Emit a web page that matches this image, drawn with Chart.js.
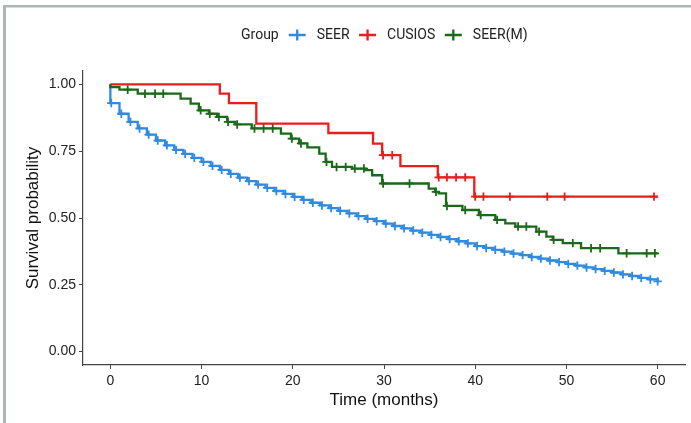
<!DOCTYPE html>
<html><head><meta charset="utf-8">
<script src="https://cdn.jsdelivr.net/npm/chart.js@4"></script>
<style>html,body{margin:0;padding:0;background:#fff;overflow:hidden}#wrap{width:691px;height:423px;position:relative}</style>
</head><body><div id="wrap"><canvas id="c"></canvas></div>
<script>
const groupTitle = 'Group';
const seriesNames = ['SEER', 'CUSIOS', 'SEER(M)'];
const seriesColors = ['#2f8ae0', '#ec1c1c', '#1a6a1a'];

// SEER: step change times (months) and survival after each change
const seerTimes = [0,0,1,2,3,4,5,6,7,8,9,10,11,12,13,14,15,16,17,18,19,20,21,22,23,24,25,26,27,28,29,30,31,32,33,34,35,36,37,38,39,40,41,42,43,44,45,46,47,48,49,50,51,52,53,54,55,56,57,58,59,60];
const seerSurv = [1,0.93,0.89,0.86,0.835,0.812,0.79,0.772,0.755,0.74,0.725,0.71,0.695,0.68,0.665,0.651,0.638,0.625,0.613,0.601,0.59,0.579,0.568,0.557,0.547,0.537,0.527,0.517,0.507,0.497,0.488,0.479,0.47,0.461,0.453,0.445,0.437,0.429,0.421,0.413,0.405,0.395,0.388,0.381,0.374,0.367,0.361,0.354,0.348,0.341,0.335,0.328,0.322,0.315,0.309,0.302,0.296,0.289,0.283,0.276,0.27,0.263];
const seerCensor = [0.1,1.2,2.2,3.2,4.2,5.2,6.2,7.2,8.2,9.2,10.2,11.2,12.2,13.2,14.2,15.2,16.2,17.2,18.2,19.2,20.2,21.2,22.2,23.2,24.2,25.2,26.2,27.2,28.2,29.2,30.2,31.2,32.2,33.2,34.2,35.2,36.2,37.2,38.2,39.2,40.2,41.2,42.2,43.2,44.2,45.2,46.2,47.2,48.2,49.2,50.2,51.2,52.2,53.2,54.2,55.2,56.2,57.2,58.2,59.2,60];

// CUSIOS
const cusiosTimes = [0,12,13,16,23.9,28.8,29.8,31.8,35.9,39.9,60];
const cusiosSurv = [1,0.965,0.93,0.853,0.818,0.778,0.735,0.694,0.652,0.58,0.58];
const cusiosCensor = [29.9,30.9,36.0,36.9,37.9,38.9,40.0,40.9,43.8,47.9,49.8,59.6];

// SEER(M)
const seermTimes = [0,0,1.0,3.0,7.7,8.8,9.7,10.8,11.7,12.8,13.7,15.5,18.7,19.8,20.7,21.6,22.9,23.6,24.3,26.5,28.0,28.7,29.8,34.9,35.6,36.0,36.8,38.6,40.4,42.2,43.3,44.4,46.7,47.8,48.5,49.6,51.6,55.7,60];
const seermSurv = [1,0.99,0.98,0.965,0.947,0.928,0.903,0.89,0.878,0.86,0.85,0.835,0.816,0.797,0.779,0.764,0.741,0.71,0.691,0.685,0.679,0.66,0.629,0.61,0.598,0.592,0.545,0.53,0.511,0.493,0.48,0.468,0.449,0.43,0.418,0.406,0.387,0.368,0.368];
const seermCensor = [1.9,3.8,4.9,5.8,9.9,10.9,11.9,12.9,13.9,15.8,16.8,17.8,19.9,20.9,23.7,24.8,25.8,26.8,27.8,29.9,32.8,35.7,36.9,38.9,40.6,42.4,44.7,45.6,47.0,48.6,50.7,52.7,53.7,56.6,58.8,59.7];

const xTicks = [0,10,20,30,40,50,60];
const yTicks = [0,0.25,0.5,0.75,1];
const yTickLabels = ['0.00','0.25','0.50','0.75','1.00'];
const xTitle = 'Time (months)';
const yTitle = 'Survival probability';

const series = [
  {times: seerTimes, surv: seerSurv, censor: seerCensor},
  {times: cusiosTimes, surv: cusiosSurv, censor: cusiosCensor},
  {times: seermTimes, surv: seermSurv, censor: seermCensor}
];

function survAt(times, surv, t) {
  let v = surv[0];
  for (let i = 0; i < times.length; i++) if (times[i] <= t) v = surv[i];
  return v;
}

const datasets = [];
series.forEach((s, i) => {
  datasets.push({
    label: seriesNames[i],
    data: s.times.map((t, k) => ({x: t, y: s.surv[k]})),
    showLine: true, stepped: 'before',
    borderColor: seriesColors[i], borderWidth: 2.3,
    pointRadius: 0, pointHoverRadius: 0, fill: false,
    order: 10 - i
  });
  datasets.push({
    label: seriesNames[i] + ' censor',
    data: s.censor.map(t => ({x: t, y: survAt(s.times, s.surv, t)})),
    showLine: false, pointStyle: 'cross', pointRadius: 4.2,
    pointBorderColor: seriesColors[i], pointBorderWidth: 1.8,
    borderColor: seriesColors[i], backgroundColor: seriesColors[i],
    order: 10 - i
  });
});

const framePlugin = {
  id: 'frame',
  beforeDraw(chart) {
    const ctx = chart.ctx;
    ctx.save();
    ctx.fillStyle = '#fff';
    ctx.fillRect(0, 0, chart.width, chart.height);
    ctx.fillStyle = '#abb8b3';
    ctx.fillRect(3, 5, chart.width - 3, 2.5);
    ctx.fillRect(3, 5, 3, chart.height - 5);
    ctx.restore();
  },
  afterDraw(chart) {
    const ctx = chart.ctx;
    ctx.save();
    ctx.font = '14px Roboto';
    ctx.textBaseline = 'middle';
    ctx.fillStyle = '#222';
    const cy = 35;
    let x = 241;
    ctx.fillText(groupTitle, x, cy);
    x += ctx.measureText(groupTitle).width + 10;
    seriesNames.forEach((name, i) => {
      ctx.strokeStyle = seriesColors[i];
      ctx.lineWidth = 2.3;
      ctx.beginPath();
      ctx.moveTo(x, cy); ctx.lineTo(x + 17, cy);
      ctx.moveTo(x + 8.5, cy - 5.5); ctx.lineTo(x + 8.5, cy + 5.5);
      ctx.stroke();
      x += 17 + 11;
      ctx.fillText(name, x, cy);
      x += ctx.measureText(name).width + 9.5;
    });
    ctx.restore();
  }
};

new Chart(document.getElementById('c'), {
  type: 'scatter',
  data: {datasets},
  plugins: [framePlugin],
  options: {
    responsive: true, maintainAspectRatio: false, animation: false,
    layout: {padding: {top: 71, right: 6, bottom: 5, left: 10}},
    plugins: {legend: {display: false}, tooltip: {enabled: false}},
    scales: {
      x: {
        type: 'linear', min: -3, max: 63,
        afterBuildTicks: s => { s.ticks = xTicks.map(v => ({value: v})); },
        afterFit: s => { s.height = 53; },
        grid: {display: true, drawOnChartArea: false, drawTicks: true, tickLength: 4, color: '#444'},
        border: {display: true, color: '#444', width: 1.2},
        ticks: {font: {family: 'Liberation Sans', size: 14}, color: '#222', padding: 4, maxRotation: 0},
        title: {display: true, text: xTitle, font: {family: 'Liberation Sans', size: 17}, color: '#111', padding: {top: 0, bottom: 7}}
      },
      y: {
        type: 'linear', min: -0.05, max: 1.05,
        afterBuildTicks: s => { s.ticks = yTicks.map(v => ({value: v})); },
        afterFit: s => { s.width = 73; },
        grid: {display: true, drawOnChartArea: false, drawTicks: true, tickLength: 4, color: '#444'},
        border: {display: true, color: '#444', width: 1.2},
        ticks: {font: {family: 'Liberation Sans', size: 14}, color: '#222', padding: 3,
          callback: (v) => { const i = yTicks.indexOf(v); return i >= 0 ? yTickLabels[i] : ''; }},
        title: {display: true, text: yTitle, font: {family: 'Liberation Sans', size: 17}, color: '#111', padding: {top: 13, bottom: 0}}
      }
    }
  }
});
</script></body></html>
